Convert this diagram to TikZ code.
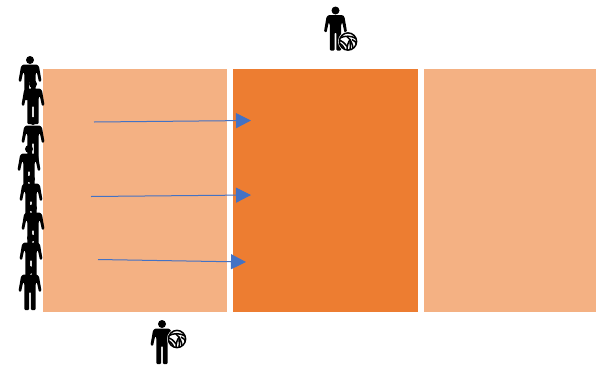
\documentclass[tikz,border=0pt]{standalone}
\usepackage{tikz}
\usetikzlibrary{arrows.meta}
\definecolor{courtlight}{HTML}{F4B183}
\definecolor{courtdark}{HTML}{ED7D31}
\definecolor{runblue}{HTML}{4472C4}
\tikzset{
  court/.style={fill=#1,draw=none},
  run/.style={draw=runblue,line width=1pt,-{Triangle[length=15pt,width=15pt]}},
  stripe/.style={black,line width=1.5pt},
  person/.pic={
    \fill[black] (0,4) circle (4);
    \fill[black,rounded corners=1pt] (-7,8.5) -- (7,8.5) -- (9,10.5) -- (11.5,25) -- (9,26) -- (6.8,16)
      -- (5.6,18) -- (5.6,44) -- (0.9,44) -- (0.9,26) -- (-0.9,26) -- (-0.9,44) -- (-5.6,44) -- (-5.6,18)
      -- (-6.8,16) -- (-9,26) -- (-11.5,25) -- (-9,10.5) -- cycle;
  },
  ball/.pic={
    \fill[white] (0,0) circle (10);
    \draw[stripe] (0,0) circle (8.6);
    \begin{scope}
      \clip (0,0) circle (8.6);
      \draw[stripe] (-8,-3.5) .. controls (-3,-6) and (3,-6) .. (8,-3);
      \draw[stripe] (-1,-5) .. controls (3,-1.5) and (5,3) .. (5,8);
      \draw[stripe] (4,-2) .. controls (7,-1) and (8,1) .. (9,4);
      \draw[stripe] (2.5,-2.5) .. controls (0,1) and (-1,4) .. (-1,9);
      \draw[stripe] (-9,-1) .. controls (-6,-1) and (-3,2) .. (-1,5);
      \draw[stripe] (-9,2) .. controls (-7,2) and (-4,5) .. (-3,9);
      \draw[stripe] (2,9) .. controls (2,6) and (3,3) .. (2,0);
    \end{scope}
  },
}
\begin{document}
\begin{tikzpicture}[x=1pt,y=-1pt]
  \useasboundingbox (0,0) rectangle (596,367);
  % courts
  \fill[court=courtlight] (42.5,68.5) rectangle (227,312);
  \fill[court=courtdark] (232.5,68.5) rectangle (417.5,312);
  \fill[court=courtlight] (423.5,68.5) rectangle (596,312);
  % queue on the left
  \foreach \px/\py in {30/56,33/80,33/117,29/145,31/175,33/204,31/234,30/266}
    \pic at (\px,\py) {person};
  % servers
  \pic at (335.5,6.5) {person};
  \pic at (348,41.5) {ball};
  \pic at (162,320) {person};
  \pic at (177,339) {ball};
  % runs
  \coordinate (runa) at (94,122);
  \coordinate (runb) at (91,196.5);
  \coordinate (runc) at (98,259.5);
  \coordinate (enda) at (251,120.5);
  \coordinate (endb) at (251,195);
  \coordinate (endc) at (246,262);
  \draw[run] (runa) -- (enda);
  \draw[run] (runb) -- (endb);
  \draw[run] (runc) -- (endc);
\end{tikzpicture}
\end{document}
